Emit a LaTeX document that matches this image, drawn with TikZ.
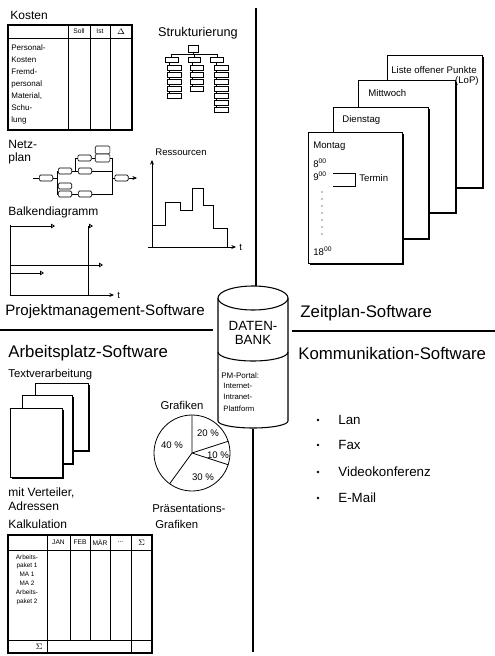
\documentclass[tikz,border=0pt]{standalone}
\usepackage{fontspec}
\setmainfont{Liberation Sans}
\usetikzlibrary{arrows.meta}
\begin{document}
\begin{tikzpicture}[x=0.75pt,y=-0.75pt,line width=0.6pt,
  every node/.style={inner sep=0pt},
  fa/.style={font=\fontsize{5}{6.6}\selectfont},
  fb/.style={font=\fontsize{6}{9}\selectfont},
  fc/.style={font=\fontsize{7.2}{9}\selectfont},
  fd/.style={font=\fontsize{8.5}{10}\selectfont},
  fe/.style={font=\fontsize{9}{10}\selectfont},
  hd/.style={anchor=west,font=\fontsize{12.6}{14}\selectfont},
  sbox/.style={draw,fill=white,line width=0.5pt},
  nbox/.style={draw,fill=white,line width=0.5pt,rounded corners=1pt,minimum width=10pt,minimum height=4.6pt},
  arr/.style={-{Stealth[length=3.5pt,width=3pt]}},
  flag/.style={-{Triangle[open,length=3pt,width=3.5pt]}},
  divider/.style={line width=0.9pt}]
\useasboundingbox (0,0) rectangle (495,656);

% ---------- dividers ----------
\draw[divider] (256,8) -- (256,286);
\draw[divider] (0,330) -- (213,330);
\draw[divider] (292,331) -- (495,331);
\draw[divider] (253,429) -- (253,652);

% ---------- headings ----------
\node[hd,font=\fontsize{11.3}{13}\selectfont] (pm) at (5,312) {Projektmanagement-Software};
\node[hd] (zp) at (300,313) {Zeitplan-Software};
\node[hd] (ap) at (8,353) {Arbeitsplatz-Software};
\node[hd] (km) at (298,353) {Kommunikation-Software};

% ---------- Kosten ----------
\node[fe,anchor=west] (kosten) at (10,15) {Kosten};
\draw[line width=1.1pt] (8,25) rectangle (132,130);
\draw (8,38) -- (132,38);
\foreach \x in {68,90,110} \draw (\x,25) -- (\x,130);
\node[fa] (soll) at (79,31.5) {Soll};
\node[fa] (ist) at (100,31.5) {Ist};
\node[fb] (delta) at (121,31.5) {$\Delta$};
\node[fb,anchor=north west,align=left] (krows) at (11,44)
  {Personal-\\Kosten\\Fremd-\\personal\\Material,\\Schu-\\lung};

% ---------- Strukturierung ----------
\node[font=\fontsize{9.5}{11}\selectfont] (struk) at (198,33) {Strukturierung};
\draw[line width=0.5pt] (193,52) -- (193,54) (171,54) -- (217,54)
  (171,54) -- (171,57) (194,54) -- (194,57) (217,54) -- (217,57);
\draw[sbox] (188,45) rectangle (198,52);
\draw[sbox] (165,57) rectangle (178,62);
\draw[sbox] (188,57) rectangle (200,62);
\draw[sbox] (210,57) rectangle (223,62);
\draw[line width=0.5pt] (169,62) -- (169,95) (192,62) -- (192,88) (216,62) -- (216,109);
\foreach \y in {65,72,79,86,93} \draw[sbox] (167,\y) rectangle (181,\y+5);
\foreach \y in {65,72,79,86} \draw[sbox] (190,\y) rectangle (203,\y+5);
\foreach \y in {65,72,79,86,93,100,107} \draw[sbox] (214,\y) rectangle (228,\y+5);

% ---------- Netzplan ----------
\node[fe,anchor=west,align=left] (netz) at (8,152) {Netz-\\plan};
\coordinate (cs) at (33,178);
\coordinate (ce) at (137,178);
\coordinate (m) at (112,178);
\node[nbox] (n1) at (46,178) {};
\node[nbox] (n2) at (65,171) {};
\node[nbox] (n3) at (84.5,158) {};
\node[nbox] (n4) at (85,171) {};
\node[nbox,minimum width=11pt,minimum height=6pt] (n5a) at (102.5,150) {};
\node[nbox,minimum width=11pt,minimum height=6pt] (n5b) at (102.5,158) {};
\node[nbox] (n6) at (65,186) {};
\node[nbox] (n7) at (65,194) {};
\node[nbox] (n8) at (85,194) {};
\node[nbox] (n9) at (121.5,178) {};
\draw[line width=0.5pt] (cs) -- (n1);
\draw[line width=0.5pt] (n1.east) -- ++(4,0) |- (n2.west);
\draw[line width=0.5pt] (n1.east) ++(4,0) |- (n6.west);
\draw[line width=0.5pt] (n1.east) ++(4,0) |- (n7.west);
\draw[line width=0.5pt] (n2.east) -- ++(3,0) |- (n3.west);
\draw[line width=0.5pt] (n2.east) -- (n4.west);
\draw[line width=0.5pt] (n3.east) -- (n5b.west);
\draw[line width=0.5pt] (n7.east) -- (n8.west);
\draw[line width=0.5pt] (n5b.east) -| (m);
\draw[line width=0.5pt] (n4.east) -| (m);
\draw[line width=0.5pt] (n8.east) -| (m);
\draw[line width=0.5pt] (m) -- (n9.west);
\draw[line width=0.5pt,arr] (n9.east) -- (ce);

% ---------- Ressourcen ----------
\node[fc] (res) at (181,152) {Ressourcen};
\coordinate (ro) at (152,247);
\coordinate (ry) at (152,160);
\coordinate (rx) at (236,247);
\draw[arr] (ro) -- (ry);
\draw[arr] (148,247) -- (rx);
\node[fc,anchor=west] (rt) at (239,247) {t};
\draw (152,225) -- (165,225) -- (165,202) -- (180,202) -- (180,210) -- (192,210)
  -- (192,188) -- (203,188) -- (203,205) -- (213,205) -- (213,228) -- (227,228) -- (227,247);

% ---------- Balkendiagramm ----------
\node[fe,anchor=west] (bd) at (8,212) {Balkendiagramm};
\coordinate (bo) at (10,295);
\coordinate (bx) at (114,295);
\draw (10,225) -- (bo);
\draw[arr] (bo) -- (bx);
\node[fc,anchor=west] (bt) at (117,295) {t};
\draw[flag] (10,226) -- (55,226);
\draw (88,295) -- (88,226);
\draw[flag] (88,226) -- (93,226);
\draw[flag] (10,265) -- (103,265);
\draw[flag] (10,273) -- (44,273);

% ---------- Zeitplan pages ----------
\foreach \a/\b/\c/\d in {387/55/482/187, 358/80/455/212, 333/107/428/238, 308/132/402/263}{
  \fill (\a+2,\b+2) rectangle (\c+1.8,\d+1.8);
  \draw[fill=white,line width=0.7pt] (\a,\b) rectangle (\c,\d);
}
\node[fc,anchor=west] (lop) at (391,70) {Liste offener Punkte};
\node[fc,anchor=east] (lop2) at (479,81) {(LoP)};
\node[fc,anchor=west] (mi) at (368,93) {Mittwoch};
\node[fc,anchor=west] (di) at (342,120) {Dienstag};
\node[fc,anchor=west] (mo) at (313,146) {Montag};
\node[fc,anchor=west] (t8) at (313,163) {8\textsuperscript{00}};
\node[fc,anchor=west] (t9) at (313,176) {9\textsuperscript{00}};
\draw[line width=0.5pt] (333,173) -- (355,173) -- (355,186) -- (333,186);
\node[fc,anchor=west] (termin) at (359,178) {Termin};
\foreach \y in {192,199,206,213,220,227,234} \fill (322,\y) circle (0.6);
\node[fc,anchor=west] (t18) at (313,251) {18\textsuperscript{00}};

% ---------- Datenbank ----------
\draw[fill=white,line width=0.8pt] (218,298) -- (218,421)
  arc[start angle=180,end angle=0,x radius=35,y radius=7] -- (288,298);
\draw[fill=white,line width=0.8pt] (253,298) ellipse [x radius=35,y radius=12];
\draw[line width=0.8pt] (218,352) arc[start angle=180,end angle=0,x radius=35,y radius=9];
\node[font=\fontsize{10}{11}\selectfont,align=center] (db) at (253,333) {DATEN-\\BANK};
\node[fb,anchor=west] (pmp) at (221,376) {PM-Portal:};
\node[font=\fontsize{5.8}{8.4}\selectfont,anchor=north west,align=left] (pmp2) at (223,383)
  {Internet-\\Intranet-\\Plattform};

% ---------- Kommunikation ----------
\foreach \i/\y/\t in {1/420/Lan, 2/445/Fax, 3/472/Videokonferenz, 4/498/E-Mail}{
  \node[circle,fill,minimum size=2pt] (kb\i) at (318,\y) {};
  \node[font=\fontsize{10}{12}\selectfont,anchor=west] (kt\i) at (338,\y) {\t};
}

% ---------- Textverarbeitung ----------
\node[fd,anchor=west] (tv) at (8,375) {Textverarbeitung};
\foreach \a/\b/\c/\d in {35/383/88/450, 22/395/72/463, 10/408/62/477}{
  \fill (\a+2,\b+2) rectangle (\c+1.8,\d+1.8);
  \draw[fill=white,line width=0.7pt] (\a,\b) rectangle (\c,\d);
}
\node[fe,anchor=west] (mv) at (8,493) {mit Verteiler,};
\node[fe,anchor=west] (adr) at (8,506) {Adressen};

% ---------- Kalkulation ----------
\node[fe,anchor=west] (kalk) at (8,524) {Kalkulation};
\draw[line width=1.1pt] (8,535) rectangle (152,653);
\draw (8,550) -- (152,550) (8,640) -- (152,640);
\draw (47,535) -- (47,653) (131,535) -- (131,653);
\foreach \x in {70,90,110} \draw (\x,535) -- (\x,640);
\node[fa] (jan) at (58.5,542.5) {JAN};
\node[fa] (feb) at (80,542.5) {FEB};
\node[fa] (mar) at (100,542.5) {MÄR};
\node[fa] (dots) at (120.5,542.5) {...};
\node[fb] (sum1) at (141.5,542.5) {$\Sigma$};
\node[font=\fontsize{4.8}{6.6}\selectfont,anchor=north,align=center] (krows2) at (27,554)
  {Arbeits-\\paket 1\\MA 1\\MA 2\\Arbeits-\\paket 2};
\node[fb] (sum2) at (39,646.5) {$\Sigma$};

% ---------- Grafiken ----------
\node[fd] (graf) at (182,405) {Grafiken};
\coordinate (pc) at (192,453);
\draw (pc) circle [radius=38];
\draw (pc) -- ++(-90:38) (pc) -- ++(-18:38) (pc) -- ++(18:38) (pc) -- ++(126:38);
\node[fc] (p40) at (172,445) {40 \%};
\node[fc] (p20) at (208,433) {20 \%};
\node[fc] (p10) at (218,455) {10 \%};
\node[fc] (p30) at (203,477) {30 \%};
\node[fd,anchor=west] (prae) at (152,508) {Präsentations-};
\node[fd,anchor=west] (prae2) at (155,524) {Grafiken};
\end{tikzpicture}
\end{document}
